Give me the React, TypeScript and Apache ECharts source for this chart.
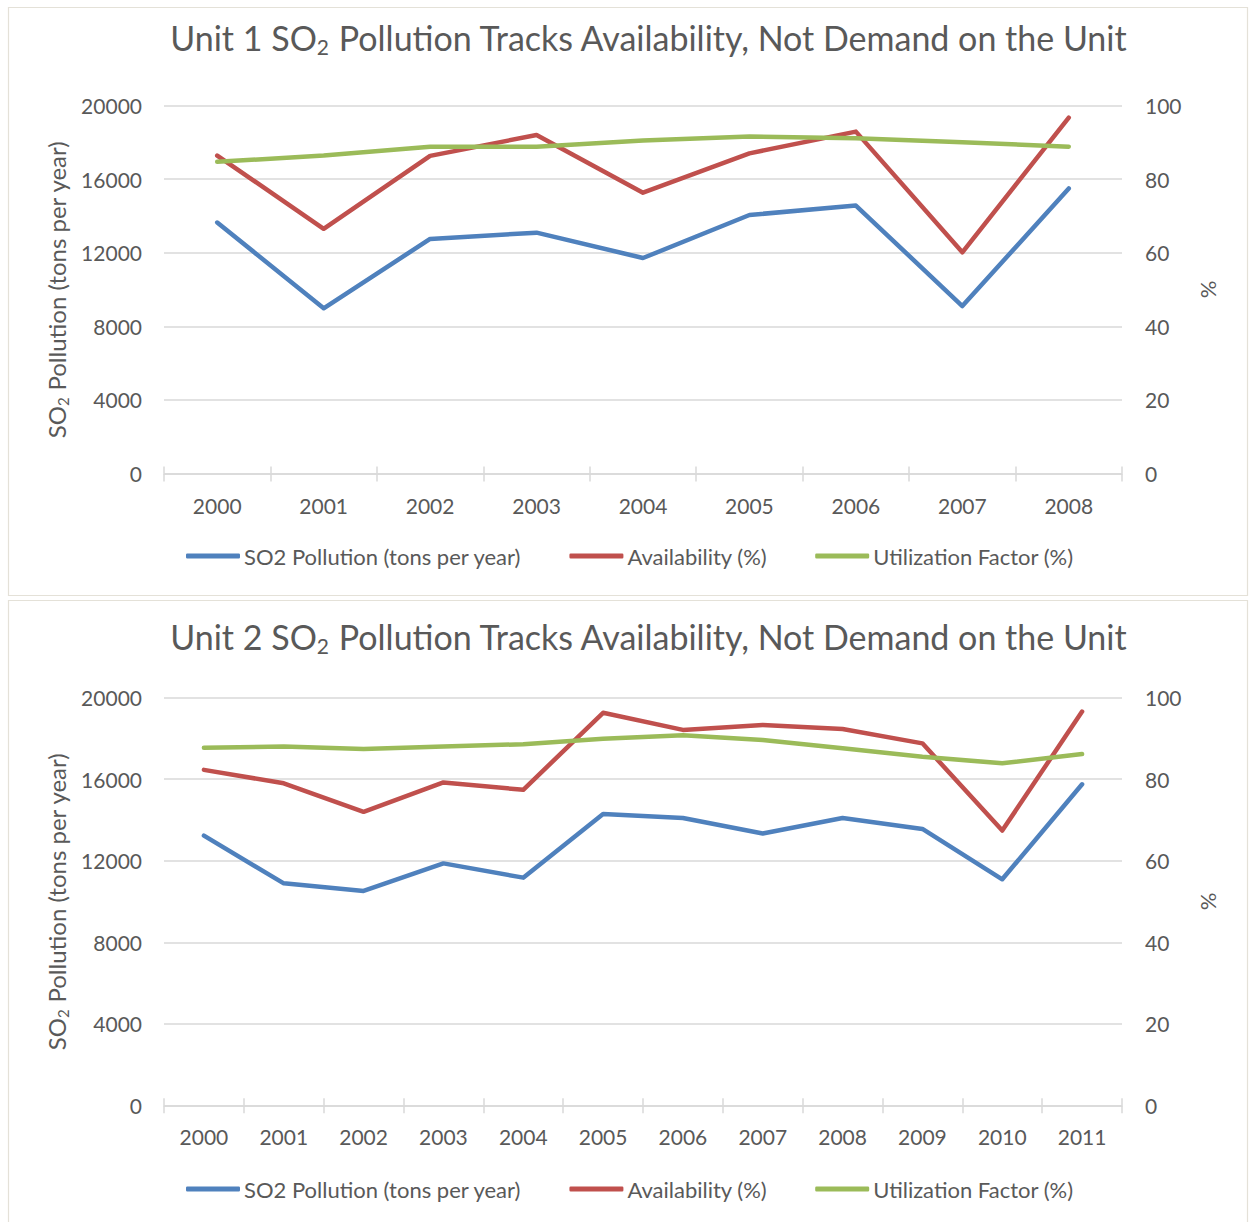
import React, { useEffect, useRef } from "react";
import * as echarts from "echarts";

const years1 = ["2000", "2001", "2002", "2003", "2004", "2005", "2006", "2007", "2008"];
const so2Unit1 = [13640, 8980, 12750, 13090, 11710, 14050, 14560, 9100, 15490];
const avail1 = [86.4, 66.5, 86.3, 92.0, 76.3, 87.0, 92.9, 60.1, 96.7];
const util1 = [84.7, 86.4, 88.8, 88.8, 90.5, 91.6, 91.1, 90.0, 88.8];

const years2 = ["2000", "2001", "2002", "2003", "2004", "2005", "2006", "2007", "2008", "2009", "2010", "2011"];
const so2Unit2 = [13230, 10890, 10520, 11870, 11170, 14290, 14100, 13340, 14100, 13560, 11090, 15750];
const avail2 = [82.3, 79.0, 72.0, 79.2, 77.4, 96.3, 92.1, 93.3, 92.3, 88.8, 67.4, 96.6];
const util2 = [87.7, 88.0, 87.4, 88.0, 88.6, 89.9, 90.8, 89.6, 87.6, 85.5, 83.9, 86.2];

const leftTicks = { min: 0, max: 20000, interval: 4000 };
const rightTicks = { min: 0, max: 100, interval: 20 };

const NAME_SO2 = "SO2 Pollution (tons per year)";
const NAME_AV = "Availability (%)";
const NAME_UF = "Utilization Factor (%)";

const FONT = "Lato";
const TXT = "#595959";
const GRID = "#d9d9d9";
const BLUE = "#4F81BD";
const RED = "#C0504D";
const GREEN = "#9BBB59";

export default function App() {
  const ref = useRef<HTMLDivElement>(null);
  useEffect(() => {
    if (!ref.current) return;
    const chart = echarts.init(ref.current, undefined, { renderer: "svg" });

    const grids = [
      { left: 164, top: 105.5, width: 958, height: 368 },
      { left: 164, top: 697.7, width: 958, height: 407.6 },
    ];

    const titleRich = {
      sub: { fontSize: 21, lineHeight: 21, verticalAlign: "bottom", fontFamily: FONT, color: TXT },
    };

    const mkTitle = (n: number, top: number) => ({
      text: `Unit ${n} SO{sub|2} Pollution Tracks Availability, Not Demand on the Unit`,
      left: 644,
      textAlign: "center",
      top,
      textStyle: {
        fontFamily: FONT,
        fontSize: 34,
        lineHeight: 40,
        fontWeight: "normal",
        color: TXT,
        rich: titleRich,
      },
    });

    const leftY = (gi: number) => ({
      type: "value",
      gridIndex: gi,
      position: "left",
      ...leftTicks,
      name: "SO{sub|2} Pollution (tons per year)",
      nameLocation: "middle",
      nameGap: 92,
      nameTextStyle: {
        fontFamily: FONT,
        fontSize: 24,
        lineHeight: 28,
        color: TXT,
        rich: { sub: { fontSize: 15, lineHeight: 15, verticalAlign: "bottom", fontFamily: FONT, color: TXT } },
      },
      axisLine: { show: false },
      axisTick: { show: false },
      axisLabel: {
        fontFamily: FONT,
        fontSize: 21,
        color: TXT,
        margin: 22,
        formatter: (v: number) => String(v),
      },
      splitLine: { lineStyle: { color: GRID, width: 1.5 } },
    });

    const rightY = (gi: number) => ({
      type: "value",
      gridIndex: gi,
      position: "right",
      ...rightTicks,
      name: "%",
      nameLocation: "middle",
      nameGap: 74,
      nameTextStyle: { fontFamily: FONT, fontSize: 22, color: TXT },
      axisLine: { show: false },
      axisTick: { show: false },
      axisLabel: { fontFamily: FONT, fontSize: 21, color: TXT, margin: 23 },
      splitLine: { show: false },
    });

    const mainX = (gi: number, data: string[]) => ({
      type: "category",
      gridIndex: gi,
      data,
      boundaryGap: true,
      axisLine: { lineStyle: { color: GRID, width: 1.5 } },
      axisTick: { show: true, length: 8, lineStyle: { color: GRID, width: 1.5 } },
      axisLabel: { fontFamily: FONT, fontSize: 21, color: TXT, margin: 21 },
      splitLine: { show: false },
    });

    const innerX = (gi: number, data: string[]) => ({
      type: "category",
      gridIndex: gi,
      data,
      position: "bottom",
      boundaryGap: true,
      axisLine: { show: false },
      axisTick: { show: true, inside: true, length: 7, lineStyle: { color: GRID, width: 1.5 } },
      axisLabel: { show: false },
      splitLine: { show: false },
    });

    const line = (name: string, color: string, data: number[], xi: number, yi: number) => ({
      type: "line",
      name,
      data,
      xAxisIndex: xi,
      yAxisIndex: yi,
      symbol: "none",
      showSymbol: false,
      lineStyle: { color, width: 4.5, cap: "round", join: "round" },
      itemStyle: { color },
      z: 3,
    });

    const legend = (top: number) => ({
      top,
      left: 181,
      orient: "horizontal",
      icon: "roundRect",
      itemWidth: 54,
      itemHeight: 5,
      itemGap: 48,
      data: [NAME_SO2, NAME_AV, NAME_UF],
      textStyle: { fontFamily: FONT, fontSize: 22, color: TXT, padding: [0, 0, 0, -1] },
      selectedMode: false,
    });

    chart.setOption({
      animation: false,
      backgroundColor: "#ffffff",
      textStyle: { fontFamily: FONT },
      graphic: [
        {
          type: "rect",
          shape: { x: 8.5, y: 7.5, width: 1239, height: 588 },
          style: { fill: "none", stroke: "#e4e1d8", lineWidth: 1.2 },
          silent: true,
        },
        {
          type: "rect",
          shape: { x: 8.5, y: 600.5, width: 1239, height: 640 },
          style: { fill: "none", stroke: "#e4e1d8", lineWidth: 1.2 },
          silent: true,
        },
      ],
      title: [mkTitle(1, 12), mkTitle(2, 611)],
      legend: [legend(540), legend(1173)],
      grid: grids,
      xAxis: [mainX(0, years1), innerX(0, years1), mainX(1, years2), innerX(1, years2)],
      yAxis: [leftY(0), rightY(0), leftY(1), rightY(1)],
      series: [
        line(NAME_SO2, BLUE, so2Unit1, 0, 0),
        line(NAME_AV, RED, avail1, 0, 1),
        line(NAME_UF, GREEN, util1, 0, 1),
        line(NAME_SO2, BLUE, so2Unit2, 2, 2),
        line(NAME_AV, RED, avail2, 2, 3),
        line(NAME_UF, GREEN, util2, 2, 3),
      ],
    });
    return () => chart.dispose();
  }, []);
  return (
    <div
      ref={ref}
      style={{ position: "absolute", left: 0, top: 0, width: 1250, height: 1222 }}
    />
  );
}
